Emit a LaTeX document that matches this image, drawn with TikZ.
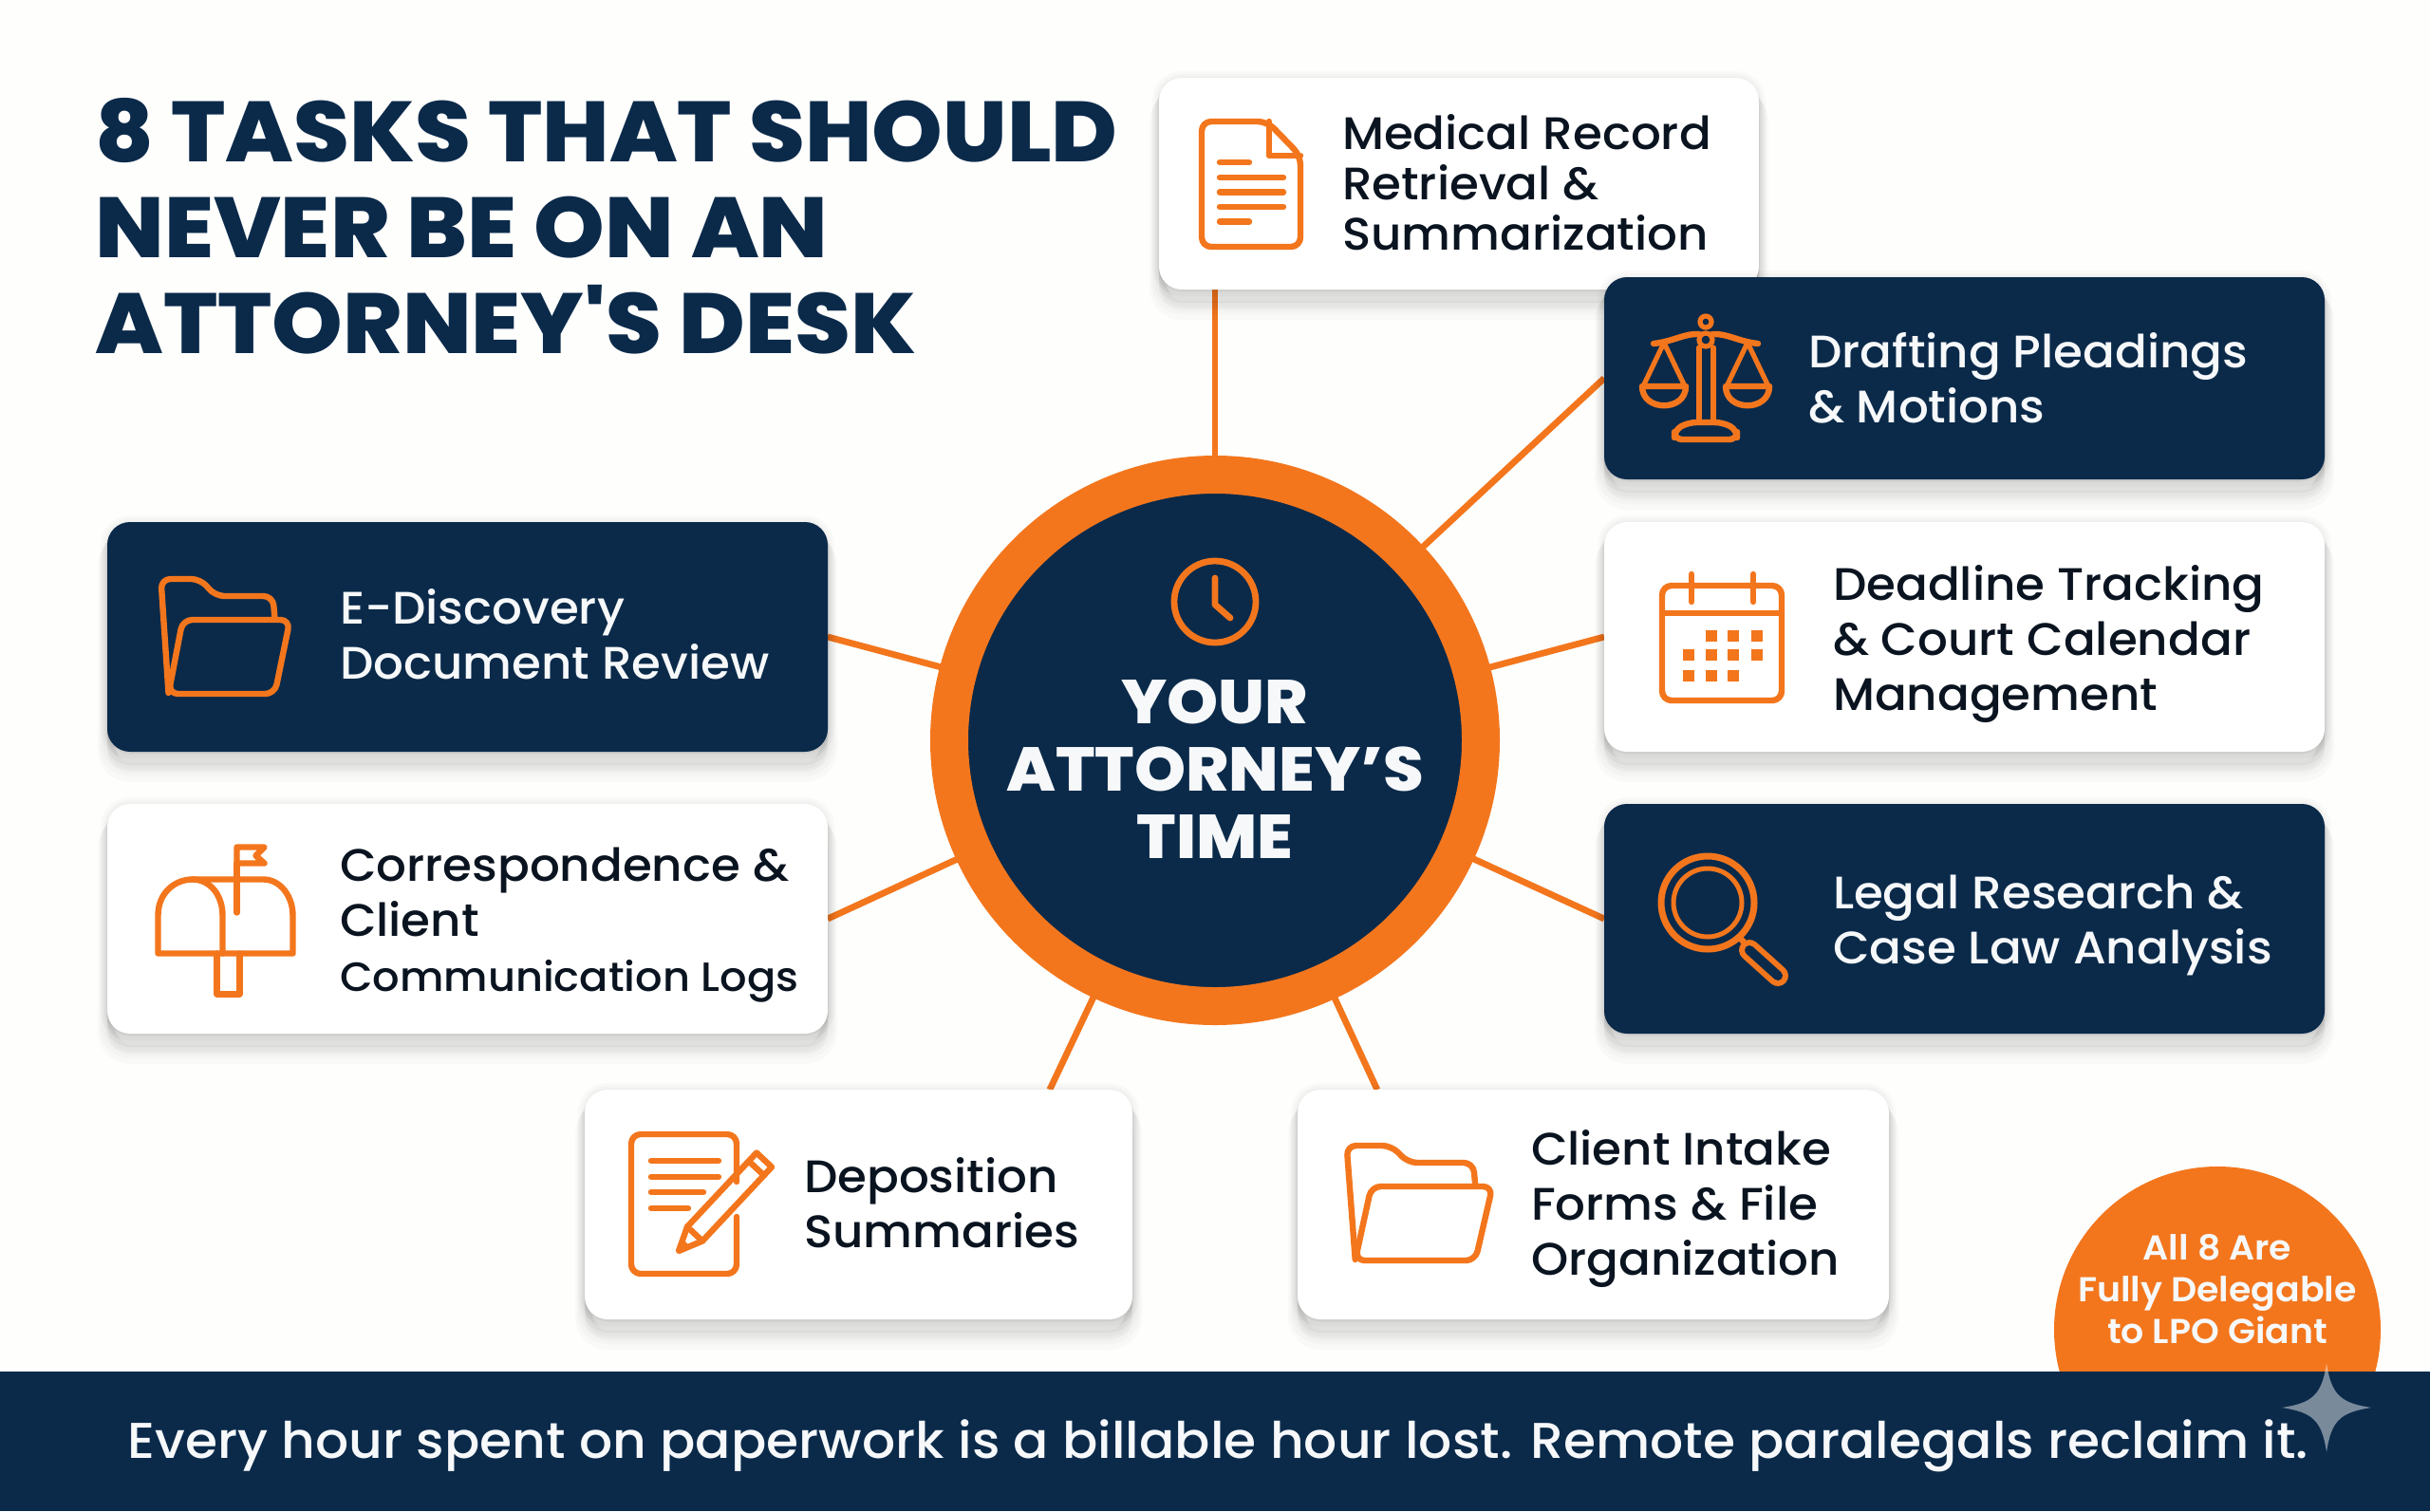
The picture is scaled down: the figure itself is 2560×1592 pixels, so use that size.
\documentclass[tikz,border=0pt]{standalone}
\usepackage{fontspec}
\usepackage{xcolor}
\usetikzlibrary{positioning}
\setmainfont{Poppins}
\newfontfamily\labelfont{Poppins Medium}[FakeStretch=1.04]
\newfontfamily\badgefont{Poppins SemiBold}[FakeStretch=1.04]
\newfontfamily\headfont{Poppins ExtraBold}[FakeStretch=1.055]
\definecolor{lponavy}{HTML}{0B2A4A}
\definecolor{lpoorange}{HTML}{F3761D}
\definecolor{lpoink}{HTML}{0A1420}
\definecolor{lpopaper}{HTML}{FEFEFD}
\definecolor{lpowhite}{HTML}{F6F8FA}
\pgfdeclarelayer{paper}
\pgfdeclarelayer{lines}
\pgfsetlayers{paper,lines,main}

\tikzset{
    shadowring/.style 2 args={preaction={draw=black, fill=black, draw opacity=0.02, fill opacity=0.02, line width=#2, transform canvas={yshift=-#1}}},
    softshadow/.style={shadowring={11pt}{10pt}, shadowring={9pt}{8pt}, shadowring={7pt}{6pt}, shadowring={5pt}{4pt}, shadowring={3pt}{2pt}, shadowring={1pt}{1pt}, shadowring={0pt}{7pt}, shadowring={0pt}{4pt}, shadowring={0pt}{1.5pt}},
    lightcard/.style={rectangle, rounded corners=12pt, fill=white, inner sep=0pt, outer sep=0pt, softshadow},
    darkcard/.style={lightcard, fill=lponavy},
    cardtext/.style={inner sep=0pt, outer sep=0pt, align=left, text=lpoink, font=\labelfont\fontsize{24}{29}\selectfont},
    darktext/.style={cardtext, text=lpowhite},
    spoke/.style={draw=lpoorange, line width=3.4pt},
    iconline/.style={draw=lpoorange, line width=3.2pt, line join=round, line cap=round, fill=none},
    pics/docicon/.style={code={
        \draw[iconline, rounded corners=5pt] (-52,-66) -- (17,-66) -- (52,-30) -- (52,66) -- (-52,66) -- cycle;
        \draw[iconline] (19,-66) -- (19,-30) -- (52,-30);
        \foreach \liney/\lineend in {-23/-2, -7/34, 8.5/34, 24/34, 39.5/-2}
            \draw[iconline] (-33,\liney) -- (\lineend,\liney);
    }},
    pics/scalesicon/.style={code={
        \draw[iconline, line width=2.6pt] (0,-60) circle (6);
        \draw[iconline, line width=2.6pt] (0,-41) circle (7);
        \draw[iconline] (-55,-37) .. controls (-35,-39) and (-22,-48) .. (-7,-47);
        \draw[iconline] (55,-37) .. controls (35,-39) and (22,-48) .. (7,-47);
        \draw[iconline, line width=2.6pt] (-7,-33) -- (-7,46) (8,-33) -- (8,46);
        \draw[iconline, rounded corners=4pt] (-33,64) -- (-33,54) -- (-18,46) -- (18,46) -- (33,54) -- (33,64) -- cycle;
        \foreach \pansign in {-1,1} {
            \draw[iconline, line width=2.6pt] (\pansign*22,8) -- (\pansign*44,-38) -- (\pansign*66,8);
            \draw[iconline] (\pansign*67,8) -- (\pansign*21,8) .. controls (\pansign*21,35) and (\pansign*67,35) .. (\pansign*67,8);
        }
    }},
    pics/calendaricon/.style={code={
        \draw[iconline, rounded corners=5pt] (-63,-54) rectangle (63,67);
        \draw[iconline] (-63,-25) -- (63,-25);
        \draw[iconline] (-32,-66) -- (-32,-37) (33,-66) -- (33,-37);
        \foreach \dotx/\doty in {-11/-1, 12/-1, 37/-1, -35/19, -11/19, 12/19, 37/19, -35/41, -11/41, 12/41}
            \fill[lpoorange] (\dotx-6,\doty-6) rectangle (\dotx+6,\doty+6);
    }},
    pics/lensicon/.style={code={
        \draw[iconline, line width=3.5pt] (-16,-17) circle (49);
        \draw[iconline, line width=2.5pt] (-16,-17) circle (36);
        \draw[iconline] (17,19) -- (26,29);
        \draw[draw=lpoorange, line width=11pt, line cap=round] (28,33) -- (58,60);
        \draw[draw=lponavy, line width=5pt, line cap=round] (28,33) -- (58,60);
    }},
    pics/foldericon/.style={code={
        \draw[iconline, rounded corners=5pt] (-60,58) -- (-68,-62) -- (-26,-62) -- (-11,-44) -- (50,-44) -- (52,-20);
        \draw[iconline, rounded corners=5pt] (-45,-19) -- (68,-19) -- (52,59) -- (-60,59) -- cycle;
    }},
    pics/mailicon/.style={code={
        \draw[iconline] (-71,35) -- (-71,-5) .. controls (-71,-30) and (-52,-43) .. (-35,-43)
            -- (40,-43) .. controls (58,-43) and (71,-25) .. (71,-5) -- (71,35) -- cycle;
        \draw[iconline] (-35,-43) .. controls (-15,-43) and (-3,-25) .. (-3,-5) -- (-3,35);
        \draw[iconline] (-9,35) -- (-9,78) -- (15,78) -- (15,35);
        \draw[iconline] (12,-8) -- (12,-60);
        \draw[iconline] (12,-60) -- (12,-77) -- (41,-77) -- (32,-68) -- (41,-60) -- cycle;
    }},
    pics/notesicon/.style={code={
        \draw[iconline, rounded corners=5pt] (37,-23) -- (37,-73) -- (-74,-73) -- (-74,74) -- (37,74) -- (37,14);
        \foreach \liney/\lineend in {-45/18, -28/18, -12/2, 5/-14}
            \draw[iconline] (-53,\liney) -- (\lineend,\liney);
        \draw[iconline] (-24,50) -- (1,39.5) -- (74,-38.5) -- (58,-53.5) -- (-15,24.5) -- cycle;
        \draw[iconline] (66,-29.5) -- (50,-44.5) (1,39.5) -- (-15,24.5);
        \fill[lpoorange] (-24,50) -- (-12,45) -- (-19,38) -- cycle;
    }},
    pics/clockicon/.style={code={
        \draw[iconline, line width=3.4pt] (0,0) circle (43);
        \draw[iconline, line width=3.4pt] (0,-25) -- (0,3) -- (16,17);
    }},
}

\begin{document}
\begin{tikzpicture}[x=0.5pt, y=-0.5pt]
\useasboundingbox (0,0) rectangle (2560,1592);
\begin{pgfonlayer}{paper}
\fill[lpopaper] (0,0) rectangle (2560,1592);
\end{pgfonlayer}

% cards
\node[lightcard, minimum width=316pt, minimum height=111.5pt] (medical) at (1537,193.5) {};
\node[darkcard, minimum width=379.5pt, minimum height=106.5pt] (drafting) at (2069.5,398.5) {};
\node[lightcard, minimum width=379.5pt, minimum height=121pt] (deadline) at (2069.5,671) {};
\node[darkcard, minimum width=379.5pt, minimum height=121pt] (legal) at (2069.5,968) {};
\node[darkcard, minimum width=379.5pt, minimum height=121pt] (ediscovery) at (492.5,671) {};
\node[lightcard, minimum width=379.5pt, minimum height=121pt] (correspondence) at (492.5,968) {};
\node[lightcard, minimum width=288.5pt, minimum height=121pt] (deposition) at (904.5,1269) {};
\node[lightcard, minimum width=311.5pt, minimum height=121pt] (client) at (1678.5,1269) {};

% hub
\node[circle, draw=lpoorange, fill=lponavy, line width=20pt, minimum size=280pt, inner sep=0pt] (hub) at (1280,780) {};
\pic at (1280,634) {clockicon};
\node[inner sep=0pt, align=center, text=lpowhite, font=\headfont\fontsize{32.6}{35.5}\selectfont] (hubtext) at (1280,810) {YOUR\\ATTORNEY’S\\TIME};

\begin{pgfonlayer}{lines}
\foreach \from in {drafting.west, deadline.west, legal.west, ediscovery.east, correspondence.east, deposition.31, client.152}
    \draw[spoke] (\from) -- (hub.center);
\draw[spoke] (hub.center) -- (hub.center |- medical.south);
\end{pgfonlayer}

% title
\node[anchor=north west, inner sep=0pt, align=left, text=lponavy, font=\headfont\fontsize{45}{50.5}\selectfont] (title) at (100,103) {8 TASKS THAT SHOULD\\NEVER BE ON AN\\ATTORNEY'S DESK};

% card labels
\node[cardtext, font=\labelfont\fontsize{24}{26.5}\selectfont, right=96.5pt of medical.west, yshift=0.8pt] (medicaltext) {Medical Record\\Retrieval \&\\Summarization};
\node[darktext, right=107.5pt of drafting.west] (draftingtext) {Drafting Pleadings\\\& Motions};
\node[cardtext, right=120.5pt of deadline.west, yshift=-4pt] (deadlinetext) {Deadline Tracking\\\& Court Calendar\\Management};
\node[darktext, right=120.5pt of legal.west, yshift=-3.3pt] (legaltext) {Legal Research \&\\Case Law Analysis};
\node[darktext, right=122.5pt of ediscovery.west, yshift=1.6pt] (ediscoverytext) {E-Discovery\\Document Review};
\node[cardtext, right=122.5pt of correspondence.west, yshift=-3.3pt] (correspondencetext) {Correspondence \&\\Client\\{\fontsize{21.5}{29}\selectfont Communication Logs}};
\node[cardtext, right=115.5pt of deposition.west, yshift=0.8pt] (depositiontext) {Deposition\\Summaries};
\node[cardtext, right=123pt of client.west, yshift=-2.5pt] (clienttext) {Client Intake\\Forms \& File\\Organization};

% icons
\pic at (1318,194) {docicon};
\pic at (1797,399) {scalesicon};
\pic at (1814,671) {calendaricon};
\pic at (1815,968) {lensicon};
\pic at (237.5,672) {foldericon};
\pic at (237.5,969.5) {mailicon};
\pic at (739,1268) {notesicon};
\pic[xscale=1.13] at (1495.5,1269) {foldericon};

% badge and band
\node[circle, fill=lpoorange, minimum size=172pt, inner sep=0pt] (badge) at (2336,1401) {};
\fill[lponavy] (0,1445) rectangle (2560,1592);
\node[inner sep=0pt, align=center, text=lpowhite, font=\badgefont\fontsize{18.2}{22}\selectfont] (badgetext) at (2336,1358) {All 8 Are\\Fully Delegable\\to LPO Giant};
\node[inner sep=0pt, anchor=west, text=lpowhite, font=\labelfont\fontsize{26.5}{30}\selectfont] (bandtext) at (134,1523) {Every hour spent on paperwork is a billable hour lost. Remote paralegals reclaim it.};
\fill[white, opacity=0.45] (2451,1436) .. controls (2456,1470) and (2466,1478) .. (2498,1483)
    .. controls (2466,1488) and (2456,1496) .. (2451,1530)
    .. controls (2446,1496) and (2436,1488) .. (2404,1483)
    .. controls (2436,1478) and (2446,1470) .. (2451,1436) -- cycle;
\end{tikzpicture}
\end{document}
